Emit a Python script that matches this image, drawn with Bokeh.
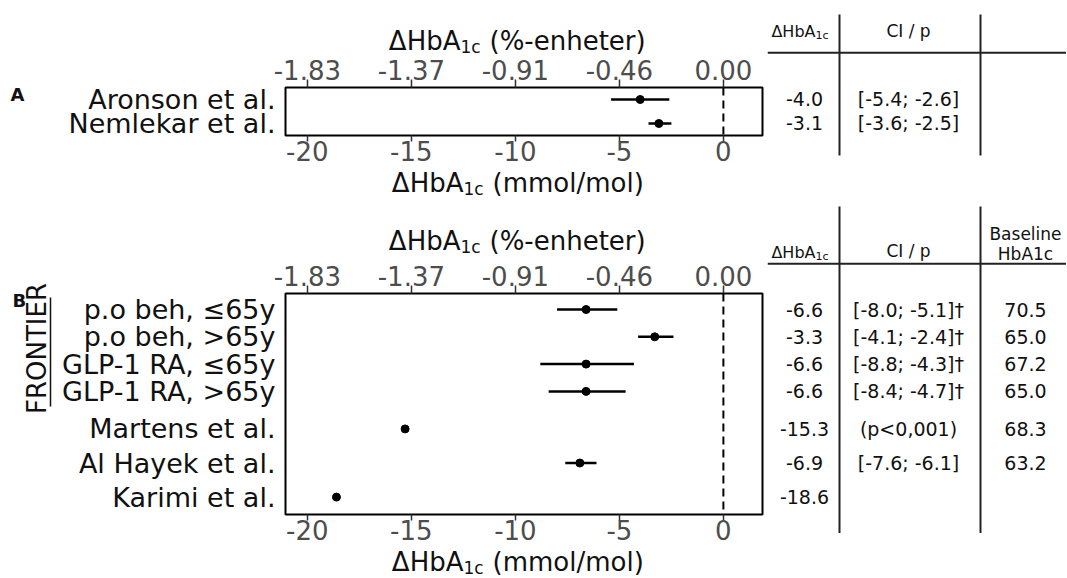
import math
from bokeh.plotting import figure
from bokeh.models import Range1d, LinearAxis, FixedTicker, Span
from bokeh.layouts import row, column
from bokeh.core.properties import value
from bokeh.embed import file_html
from bokeh.resources import INLINE

FONT = "DejaVu Sans"
INK = "#111111"

# ---------------- data ----------------
a_labels = ["Aronson et al.", "Nemlekar et al."]
a_est = [-4.0, -3.1]
a_lo = [-5.4, -3.6]
a_hi = [-2.6, -2.5]

b_labels = ["p.o beh, ≤65y", "p.o beh, >65y", "GLP-1 RA, ≤65y", "GLP-1 RA, >65y",
            "Martens et al.", "Al Hayek et al.", "Karimi et al."]
b_est = [-6.6, -3.3, -6.6, -6.6, -15.3, -6.9, -18.6]
b_lo = [-8.0, -4.1, -8.8, -8.4, None, -7.6, None]
b_hi = [-5.1, -2.4, -4.3, -4.7, None, -6.1, None]
b_dagger = [True, True, True, True, False, False, False]
b_note = [None, None, None, None, "(p<0,001)", None, None]
b_baseline = [70.5, 65.0, 67.2, 65.0, 68.3, 63.2, None]
b_group = "FRONTIER"          # first four rows of panel B
b_group_rows = [0, 1, 2, 3]

x_ticks = [-20, -15, -10, -5, 0]
MMOL_PER_PCT = 10.929         # mmol/mol per %-unit

# ---------------- layout constants (px) ----------------
LW = 54            # left strip width (panel letters / group label)
CW = 713           # forest column width
TW = 299           # table width
FBL = 231          # forest frame left border
FFW = 477          # forest frame width
XR = (-21.05, 1.88)
BB = 32            # bottom border of forest figure (x axis + tick labels)

# panel A
HA = 200
A_POS = [1, 2]
A_YTOP, A_YBOT = 0.5, 2.5
A_TOPH, A_BTOP, A_FH = 56, 30, 49
# panel B
HB = 377
B_POS = [0, 8, 16, 24, 35, 45, 55]
B_YTOP, B_YBOT = -4.7, 60.1
B_TOPH, B_BTOP, B_FH = 56, 37, 221


def strip(w, h):
    s = figure(width=w, height=h, x_range=Range1d(0, w), y_range=Range1d(0, h),
               output_backend="svg", toolbar_location=None, title=None,
               min_border=0, x_axis_location=None, y_axis_location=None,
               outline_line_color=None)
    s.frame_align = False
    s.grid.visible = False
    return s


def txt(s, h, x, py, text, size, align="left", **kw):
    """Text whose vertical middle sits at py (pixels from the strip top)."""
    s.text(x=[x], y=[h - py], text=[text], text_align=align, text_baseline="middle",
           text_font=value(FONT), text_font_size=value(size),
           text_color=kw.pop("color", INK), **kw)


def style_x(ax, tick_out, standoff):
    ax.ticker = FixedTicker(ticks=x_ticks)
    ax.axis_line_color = None
    ax.major_tick_line_color = "#333333"
    ax.major_tick_line_width = 1.5
    ax.major_tick_in = 0
    ax.major_tick_out = tick_out
    ax.minor_tick_line_color = None
    ax.major_label_standoff = standoff
    ax.major_label_text_font = FONT
    ax.major_label_text_font_size = "26px"
    ax.major_label_text_color = "#4d4d4d"


def forest(labels, est, lo, hi, pos, ytop, ybot, btop, fh):
    height = btop + fh + BB
    p = figure(width=CW, height=height, x_range=Range1d(XR[0], XR[1]),
               y_range=Range1d(start=ybot, end=ytop), output_backend="svg",
               toolbar_location=None, title=None,
               min_border_left=FBL, min_border_right=CW - FBL - FFW,
               min_border_top=btop, min_border_bottom=BB,
               outline_line_color="black", outline_line_width=2)
    p.frame_align = False
    p.xgrid.visible = False
    p.ygrid.visible = False
    style_x(p.xaxis[0], 6, -1)
    p.xaxis[0].major_label_overrides = {t: f"{t}" for t in x_ticks}
    top = LinearAxis()
    style_x(top, 8, 0)
    top.major_label_overrides = {t: f"{t / MMOL_PER_PCT:.2f}" for t in x_ticks}
    p.add_layout(top, "above")

    ya = p.yaxis[0]
    ya.ticker = FixedTicker(ticks=pos)
    ya.major_label_overrides = {pp: l for pp, l in zip(pos, labels)}
    ya.axis_line_color = None
    ya.major_tick_line_color = None
    ya.major_tick_out = 0
    ya.major_tick_in = 0
    ya.minor_tick_line_color = None
    ya.major_label_standoff = 10
    ya.major_label_text_font = FONT
    ya.major_label_text_font_size = "27px"
    ya.major_label_text_color = INK

    p.add_layout(Span(location=0, dimension="height", line_color="black",
                      line_width=2, line_dash="8 5"))
    ci = [i for i in range(len(est)) if lo[i] is not None]
    p.segment(x0=[lo[i] for i in ci], y0=[pos[i] for i in ci],
              x1=[hi[i] for i in ci], y1=[pos[i] for i in ci],
              line_color="black", line_width=2.5)
    p.scatter(est, pos, size=8, color="black")
    return p


def title_strip(h, mid, sub_mid, pct):
    s = strip(CW, h)
    rest = "(%-enheter)" if pct else "(mmol/mol)"
    ax = 406 if pct else 409
    txt(s, h, ax, mid, "ΔHbA", "26px", align="right")
    txt(s, h, ax, sub_mid, "1c", "17px")
    txt(s, h, ax + 29, mid, rest, "26px")
    return s


def table(height, ytop, ybot, ftop, fh, vline, hline, pos, c1, c2, c3):
    upp = (ybot - ytop) / fh
    top_val = ytop - ftop * upp
    bot_val = ytop + (height - ftop) * upp
    t = figure(width=TW, height=height, x_range=Range1d(0, TW),
               y_range=Range1d(start=bot_val, end=top_val), output_backend="svg",
               toolbar_location=None, title=None, min_border=0,
               x_axis_location=None, y_axis_location=None,
               outline_line_color=None)
    t.frame_align = False
    t.grid.visible = False
    ty = lambda py: top_val + py * upp
    t.segment(x0=[72, 213], y0=[ty(vline[0])] * 2, x1=[72, 213], y1=[ty(vline[1])] * 2,
              line_color="#222222", line_width=2)
    t.segment(x0=[0], y0=[ty(hline)], x1=[TW], y1=[ty(hline)],
              line_color="#222222", line_width=2)
    for xc, col in ((37, c1), (141, c2), (258, c3)):
        idx = [i for i in range(len(col)) if col[i]]
        if idx:
            t.text(x=[xc] * len(idx), y=[pos[i] for i in idx], text=[col[i] for i in idx],
                   text_align="center", text_baseline="middle",
                   text_font=value(FONT), text_font_size=value("19px"),
                   text_color=INK)
    return t, ty


def hdr(t, ty, x, py, text, size, align="left"):
    t.text(x=[x], y=[ty(py)], text=[text], text_align=align, text_baseline="middle",
           text_font=value(FONT), text_font_size=value(size), text_color=INK)


# ---------------- panel A ----------------
fA = forest(a_labels, a_est, a_lo, a_hi, A_POS, A_YTOP, A_YBOT, A_BTOP, A_FH)
topA = title_strip(A_TOPH, 40.5, 46, True)
botA = title_strip(HA - A_TOPH - fA.height, 15.5, 21.5, False)
leftA = strip(LW, HA)
txt(leftA, HA, 10, 93.5, "A", "18px", text_font_style="bold")

A_FTOP = A_TOPH + A_BTOP
a_c1 = [f"{v:.1f}" for v in a_est]
a_c2 = [f"[{l:.1f}; {h:.1f}]" for l, h in zip(a_lo, a_hi)]
a_c3 = [None, None]
tA, tyA = table(HA, A_YTOP, A_YBOT, A_FTOP, A_FH, (14, 155), 52.3, A_POS, a_c1, a_c2, a_c3)
hdr(tA, tyA, 48, 30.5, "ΔHbA", "16px", "right")
hdr(tA, tyA, 48, 34.5, "1c", "11px")
hdr(tA, tyA, 141, 30.5, "CI / p", "17px", "center")

# ---------------- panel B ----------------
fB = forest(b_labels, b_est, b_lo, b_hi, B_POS, B_YTOP, B_YBOT, B_BTOP, B_FH)
topB = title_strip(B_TOPH, 40.5, 46, True)
botB = title_strip(HB - B_TOPH - fB.height, 15.5, 21, False)
B_FTOP = B_TOPH + B_BTOP
rowpx = lambda v: B_FTOP + (v - B_YTOP) / (B_YBOT - B_YTOP) * B_FH

leftB = strip(LW, HB)
g0, g1 = rowpx(B_POS[b_group_rows[0]]), rowpx(B_POS[b_group_rows[-1]])
txt(leftB, HB, 12, g0 - 9, "B", "18px", text_font_style="bold")
txt(leftB, HB, 36.5, (g0 + g1) / 2 - 2, b_group, "26px", align="center", angle=math.pi / 2)
leftB.segment(x0=[50], y0=[HB - (g0 - 12)], x1=[50], y1=[HB - (g1 + 15)],
              line_color=INK, line_width=1.5)

b_c1 = [f"{v:.1f}" for v in b_est]
b_c2 = []
for l, h, d, n in zip(b_lo, b_hi, b_dagger, b_note):
    if l is not None:
        b_c2.append(f"[{l:.1f}; {h:.1f}]" + ("†" if d else ""))
    else:
        b_c2.append(n)
b_c3 = [f"{v:.1f}" if v is not None else None for v in b_baseline]
tB, tyB = table(HB, B_YTOP, B_YBOT, B_FTOP, B_FH, (6, rowpx(B_POS[-1]) + 36), 63.3,
                B_POS, b_c1, b_c2, b_c3)
hdr(tB, tyB, 48, 51.5, "ΔHbA", "16px", "right")
hdr(tB, tyB, 48, 55.5, "1c", "11px")
hdr(tB, tyB, 141, 50, "CI / p", "17px", "center")
hdr(tB, tyB, 258, 33, "Baseline", "17px", "center")
hdr(tB, tyB, 258, 53, "HbA1c", "17px", "center")

layout = column(
    row(leftA, column(topA, fA, botA), tA),
    row(leftB, column(topB, fB, botB), tB),
)
open("out.html", "w").write(file_html(layout, INLINE))
